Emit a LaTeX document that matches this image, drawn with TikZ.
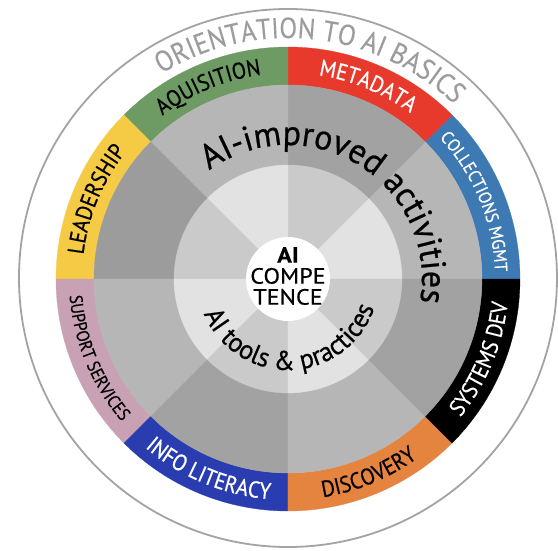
\documentclass[tikz,border=0pt]{standalone}
\usepackage{fontspec}
\setmainfont{PT Sans}
\newfontfamily\bandfont[FakeStretch=0.9, FakeBold=0.5]{PT Sans}
\newfontfamily\titlefont[FakeStretch=0.9, FakeBold=0.2]{PT Sans}
\newfontfamily\bigfont[FakeStretch=0.97, FakeBold=0.6]{PT Sans}
\newfontfamily\centrefont[FakeStretch=1.1, FakeBold=0.4]{PT Sans}
\usetikzlibrary{decorations.text}
\definecolor{ringgray}{HTML}{A3A3A3}
\definecolor{titlegray}{HTML}{9C9C9C}
\definecolor{cblue}{HTML}{3D7AB3}
\definecolor{cred}{HTML}{E83A2C}
\definecolor{cgreen}{HTML}{6E9A63}
\definecolor{cyellow}{HTML}{F5CB45}
\definecolor{cpink}{HTML}{C9A1B5}
\definecolor{cnavy}{HTML}{2A3DB0}
\definecolor{corange}{HTML}{E5843F}
\definecolor{midlight}{HTML}{B6B6B6}
\definecolor{middark}{HTML}{A2A2A2}
\definecolor{middarker}{HTML}{9C9C9C}
\definecolor{inlight}{HTML}{E2E2E2}
\definecolor{indark}{HTML}{CACACA}
\tikzset{
  arctext/.style={decorate, decoration={text along path, text align=center, #1}},
}
\begin{document}
\begin{tikzpicture}[x=1pt,y=1pt]
\useasboundingbox (-288,-271) rectangle (270,279);
% outer thin circle
\draw[ringgray, line width=1.8] (0,1) circle[radius=269];
% coloured ring
\foreach \a/\c in {0/cblue,45/cred,90/cgreen,135/cyellow,180/cpink,225/cnavy,270/corange,315/black}{
  \fill[\c, draw=\c, line width=0.3] (\a:232) arc[start angle=\a, end angle={\a+45}, radius=232]
     -- ({\a+45}:194) arc[start angle={\a+45}, end angle=\a, radius=194] -- cycle;
}
% middle ring
\foreach \a/\c in {0/midlight,45/middark,90/midlight,135/middarker,180/midlight,225/middark,270/midlight,315/middark}{
  \fill[\c, draw=\c, line width=0.3] (0,0) -- (\a:194) arc[start angle=\a, end angle={\a+45}, radius=194] -- cycle;
}
% inner ring
\foreach \a/\c in {0/inlight,45/indark,90/inlight,135/indark,180/inlight,225/indark,270/inlight,315/indark}{
  \fill[\c, draw=\c, line width=0.3] (0,0) -- (\a:114) arc[start angle=\a, end angle={\a+45}, radius=114] -- cycle;
}
% centre
\fill[white] (0,0) circle[radius=42];
\node[align=center, font=\centrefont\fontsize{22}{21}\selectfont, inner sep=0] (centre) at (0,3) {\textbf{AI}\\COMPE\\TENCE};
% title
\path[arctext={text color=titlegray, text={|\titlefont\fontsize{29}{29}\selectfont|ORIENTATION TO AI BASICS}}]
  (130:241) arc[start angle=130, end angle=38, radius=241];
% band labels (top, clockwise)
\path[arctext={text color=black, text={|\bandfont\fontsize{23}{23}\selectfont|LEADERSHIP}}]
  (180:206) arc[start angle=180, end angle=135, radius=206];
\path[arctext={text color=black, text={|\bandfont\fontsize{23}{23}\selectfont|AQUISITION}}]
  (135:206) arc[start angle=135, end angle=90, radius=206];
\path[arctext={text color=white, text={|\bandfont\fontsize{23}{23}\selectfont|METADATA}}]
  (90:206) arc[start angle=90, end angle=45, radius=206];
\path[arctext={text color=white, text={|\bandfont\fontsize{18}{18}\selectfont|COLLECTIONS MGMT}}]
  (45:207) arc[start angle=45, end angle=0, radius=207];
% band labels (bottom, counter-clockwise)
\path[arctext={text color=black, text={|\bandfont\fontsize{18}{18}\selectfont|SUPPORT SERVICES}}]
  (180:219) arc[start angle=180, end angle=225, radius=219];
\path[arctext={text color=white, text={|\bandfont\fontsize{23}{23}\selectfont|INFO LITERACY}}]
  (225:221) arc[start angle=225, end angle=270, radius=221];
\path[arctext={text color=black, text={|\bandfont\fontsize{23}{23}\selectfont|DISCOVERY}}]
  (270:221) arc[start angle=270, end angle=315, radius=221];
\path[arctext={text color=white, text={|\bandfont\fontsize{23}{23}\selectfont|SYSTEMS DEV}}]
  (315:221) arc[start angle=315, end angle=360, radius=221];
% inner arc texts
\path[arctext={text color=black, text={|\bigfont\fontsize{35}{35}\selectfont|AI-improved activities}}]
  (150:134) arc[start angle=150, end angle=-34, radius=134];
\path[arctext={text color=black, text={|\bigfont\fontsize{27}{27}\selectfont|AI tools {\&} practices}}]
  (190:91) arc[start angle=190, end angle=354, radius=91];
\end{tikzpicture}
\end{document}
